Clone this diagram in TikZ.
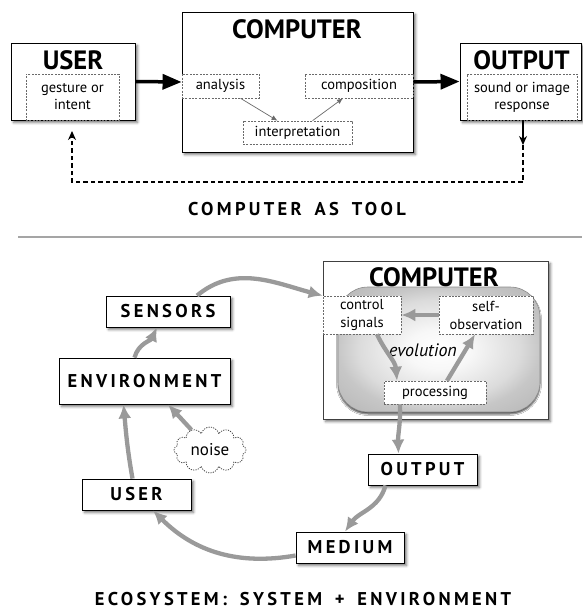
\documentclass[tikz,border=0pt]{standalone}
\usepackage{fontspec}
\setmainfont{PT Sans}
\newfontfamily\trackfont[LetterSpace=18, WordSpace=1.6]{PT Sans}
\usetikzlibrary{
    shapes, shapes.symbols,
    arrows.meta, positioning, calc,
    shadows, shadows.blur
}
\definecolor{loopGray}{HTML}{9A9A9A}
\definecolor{dashGray}{HTML}{6A6A6A}
\definecolor{ruleGray}{HTML}{A5A5A5}
\pgfdeclareradialshading{blobshade}{\pgfpoint{0bp}{0bp}}{%
    color(0bp)=(white); color(8bp)=(white!97!black); color(20bp)=(white!86!black);
    color(25bp)=(white!78!black); color(50bp)=(white!62!black)}

\begin{document}
\begin{tikzpicture}[x=1pt, y=1pt,
    mainbox/.style={draw=black, fill=white, line width=0.9pt, inner sep=0pt,
        blur shadow={shadow xshift=2.5pt, shadow yshift=-2.5pt, shadow blur radius=2.5pt, shadow opacity=55}},
    subbox/.style={draw=dashGray, fill=white, dash pattern=on 2pt off 1.3pt, line width=0.6pt,
        inner sep=0pt, align=center, font=\fontsize{14.5}{17}\selectfont},
    headtext/.style={font=\bfseries\fontsize{26.5}{30}\selectfont, inner sep=0pt},
    tagbox/.style={mainbox, line width=0.8pt, font=\bfseries\trackfont\fontsize{18.5}{20}\selectfont},
    captext/.style={font=\bfseries\trackfont\fontsize{18.5}{22}\selectfont, inner sep=0pt, anchor=base, text depth=0pt},
    heavyarrow/.style={line width=3.5pt, -{Triangle[length=19pt, width=15pt]}},
    thinarrow/.style={draw=dashGray, line width=0.7pt, -{Latex[length=6pt, width=5pt]}},
    fbline/.style={line width=1.4pt},
    looparrow/.style={draw=loopGray, line width=4.3pt, -{Latex[length=14pt, width=13pt]}},
]
    \useasboundingbox (0,0) rectangle (582,-611);

    % computer as tool
    \node[mainbox, minimum width=124pt, minimum height=77pt] (user) at (73,-81.5) {};
    \node[headtext] (usertitle) at (73,-60) {USER};
    \node[subbox, minimum width=93pt, minimum height=46pt] (gesture) at (72.5,-97) {gesture or\\intent};

    \node[mainbox, minimum width=231pt, minimum height=140pt] (comp) at (297.5,-82) {};
    \node[headtext] (comptitle) at (297,-29) {COMPUTER};
    \node[subbox, minimum width=77pt, minimum height=24pt] (analysis) at (220.5,-86) {analysis};
    \node[subbox, minimum width=108pt, minimum height=24pt] (composition) at (359,-86) {composition};
    \node[subbox, minimum width=109pt, minimum height=23pt] (interp) at (297.5,-132.5) {interpretation};

    \node[mainbox, minimum width=121pt, minimum height=77pt] (outbox) at (520.5,-81.5) {};
    \node[headtext] (outtitle) at (521.5,-60) {OUTPUT};
    \node[subbox, minimum width=110pt, minimum height=46pt] (response) at (522,-97) {sound or image\\response};

    \draw[heavyarrow] (user.east) -- (comp.west);
    \draw[heavyarrow] (comp.east) -- (outbox.west);
    \draw[thinarrow] ([xshift=20pt]analysis.south) -- ([xshift=-20pt]interp.north);
    \draw[thinarrow] ([xshift=15pt]interp.north) -- ([xshift=-16pt]composition.south);

    \coordinate (fbdown) at (523,-145);
    \coordinate (fbcorner) at (72,-182);
    \coordinate (fbup) at (72,-131);
    \draw[fbline, -{Stealth[length=9pt, width=8pt]}] (outbox.south -| fbdown) -- (fbdown);
    \draw[fbline, dash pattern=on 4.5pt off 3pt, -{Stealth[length=9pt, width=8pt]}] (fbdown) |- (fbcorner) -- (fbup);

    \node[captext] (toolcap) at (297,-215.5) {COMPUTER AS TOOL};

    \draw[ruleGray, line width=1.3pt] (18,-237) -- (582,-237);

    % ecosystem
    \node[mainbox, draw=black!75, line width=0.8pt, minimum width=225pt, minimum height=158pt] (comp2) at (435.5,-340) {};
    \node[shading=blobshade, draw=black!45, line width=0.6pt,
        rounded corners=30pt, minimum width=202pt, minimum height=125pt,
        blur shadow={shadow xshift=0pt, shadow yshift=-2pt, shadow blur radius=1.5pt, shadow opacity=70}] (blob) at (439,-349.5) {};
    \node[headtext] (comp2title) at (434,-277) {COMPUTER};
    \node[subbox, font=\fontsize{14.5}{18}\selectfont, minimum width=78pt, minimum height=38pt] (ctrl) at (362,-315) {control\\signals};
    \node[subbox, font=\fontsize{14.5}{18}\selectfont, minimum width=94pt, minimum height=38pt] (selfobs) at (486,-315) {self-\\observation};
    \node[subbox, font=\fontsize{14.5}{18}\selectfont, minimum width=102pt, minimum height=23pt] (proc) at (435,-392.5) {processing};
    \node[font=\itshape\fontsize{18}{21}\selectfont, inner sep=0pt] (evo) at (423,-350) {evolution};

    \node[tagbox, minimum width=124pt, minimum height=31pt] (sensors) at (168,-311.5) {SENSORS};
    \node[tagbox, minimum width=171pt, minimum height=46pt] (env) at (144.5,-381) {ENVIRONMENT};
    \node[tagbox, minimum width=109pt, minimum height=31pt] (user2) at (136.5,-494.5) {USER};
    \node[tagbox, minimum width=109pt, minimum height=31pt] (out2) at (422.5,-469.5) {OUTPUT};
    \node[tagbox, minimum width=108pt, minimum height=31pt] (medium) at (350,-547.5) {MEDIUM};
    \node[cloud, cloud puffs=12, aspect=1.6, draw=black!80, dash pattern=on 1.2pt off 1.2pt, line width=0.7pt,
        fill=white, inner sep=0pt, minimum width=72pt, minimum height=46pt,
        font=\fontsize{17}{20}\selectfont] (noise) at (210,-450) {noise};

    \draw[looparrow] ([xshift=-4pt]user2.north) to[out=100, in=-85] ([xshift=-21pt]env.south);
    \draw[looparrow] ([xshift=-10pt]env.north) to[out=75, in=-115] ([xshift=-11pt]sensors.south);
    \draw[looparrow] ([xshift=29pt]sensors.north) to[out=40, in=165] (ctrl.north west);
    \draw[looparrow] ([xshift=15pt]ctrl.south) to[out=-65, in=95] ([xshift=-38pt]proc.north);
    \draw[looparrow] ([xshift=12pt]proc.north) -- ([xshift=-11pt]selfobs.south);
    \draw[looparrow] (selfobs.west) -- (ctrl.east);
    \draw[looparrow] ([xshift=-35pt]proc.south) to[out=-88, in=92] ([xshift=-24pt]out2.north);
    \draw[looparrow] ([xshift=-37pt]out2.south) to[out=-105, in=55] ([xshift=-5pt]medium.north);
    \draw[looparrow] ([yshift=-8pt]medium.west) to[out=190, in=-45] ([xshift=16.5pt]user2.south);
    \draw[looparrow] (noise) -- ([xshift=23.5pt]env.south);

    \node[captext] (ecocap) at (303,-605.5) {ECOSYSTEM: SYSTEM + ENVIRONMENT};
\end{tikzpicture}
\end{document}
